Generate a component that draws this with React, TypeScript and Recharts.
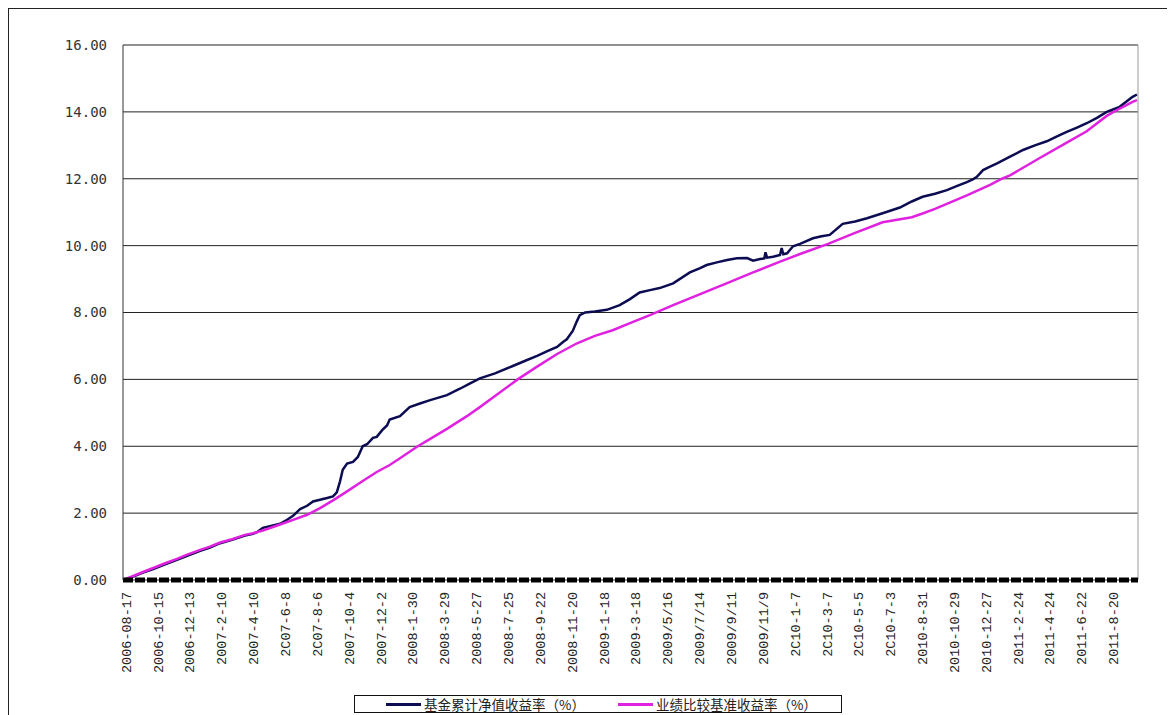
import React from 'react';
import { LineChart, Line, XAxis, YAxis, CartesianGrid, ReferenceLine } from 'recharts';

// x-axis tick labels, one every 59 days starting 2006-08-17
const labelDates = [
  '2006-08-17', '2006-10-15', '2006-12-13', '2007-2-10', '2007-4-10', '2C07-6-8', '2C07-8-6',
  '2007-10-4', '2007-12-2', '2008-1-30', '2008-3-29', '2008-5-27', '2008-7-25', '2008-9-22',
  '2008-11-20', '2009-1-18', '2009-3-18', '2009/5/16', '2009/7/14', '2009/9/11', '2009/11/9',
  '2C10-1-7', '2C10-3-7', '2C10-5-5', '2C10-7-3', '2010-8-31', '2010-10-29', '2010-12-27',
  '2011-2-24', '2011-4-24', '2011-6-22', '2011-8-20',
];
const tickDays = labelDates.map((_, i) => i * 59);
const yTicks = [0, 2, 4, 6, 8, 10, 12, 14, 16];

// 基金累计净值收益率 (days since 2006-08-17, %)
const fundDays = [
  0, 19, 37, 56, 78, 100, 119, 143, 161, 180, 202, 226, 241, 248, 259, 272, 291, 304, 315, 328,
  341, 352, 365, 378, 389, 396, 402, 407, 415, 426, 435, 444, 452, 463, 470, 480, 489, 494, 513,
  531, 550, 569, 600, 624, 643, 661, 689, 722, 744, 767, 787, 804, 815, 822, 833, 841, 846, 856,
  874, 896, 920, 939, 957, 976, 994, 1019, 1050, 1069, 1081, 1100, 1119, 1137, 1156, 1167, 1180,
  1188, 1190, 1193, 1204, 1217, 1220, 1223, 1230, 1241, 1254, 1278, 1294, 1309, 1333, 1356, 1378,
  1407, 1439, 1461, 1481, 1504, 1526, 1544, 1563, 1574, 1581, 1593, 1606, 1619, 1643, 1667, 1689,
  1711, 1730, 1748, 1767, 1785, 1804, 1822, 1846, 1870, 1878,
];
const fundValues = [
  0, 0.1, 0.22, 0.33, 0.47, 0.6, 0.72, 0.87, 0.97, 1.1, 1.2, 1.33, 1.38, 1.43, 1.56, 1.61, 1.68, 1.8, 1.92, 2.12,
  2.22, 2.35, 2.4, 2.45, 2.5, 2.62, 2.95, 3.3, 3.48, 3.53, 3.68, 4.0, 4.06, 4.25, 4.28, 4.48, 4.62, 4.8, 4.9,
  5.17, 5.28, 5.38, 5.53, 5.72, 5.88, 6.03, 6.18, 6.4, 6.55, 6.7, 6.85, 6.97, 7.12, 7.2, 7.45, 7.75, 7.92, 8.0,
  8.03, 8.08, 8.22, 8.4, 8.6, 8.67, 8.73, 8.87, 9.2, 9.33, 9.42, 9.5, 9.57, 9.62, 9.63, 9.55, 9.6,
  9.62, 9.8, 9.64, 9.67, 9.72, 9.93, 9.74, 9.77, 9.98, 10.05, 10.22, 10.28, 10.32, 10.65, 10.72, 10.82,
  10.97, 11.14, 11.32, 11.46, 11.55, 11.66, 11.78, 11.9, 11.98, 12.05, 12.26, 12.36, 12.46, 12.66, 12.86, 13.0,
  13.12, 13.27, 13.4, 13.53, 13.66, 13.82, 14.0, 14.15, 14.45, 14.52,
];

// 业绩比较基准收益率
const benchDays = [
  0, 19, 37, 56, 78, 100, 119, 143, 161, 180, 202, 226, 241, 259, 291, 315, 341, 365, 389, 415,
  444, 470, 494, 513, 546, 569, 600, 637, 661, 689, 731, 767, 804, 841, 874, 907, 939, 976, 1019,
  1069, 1119, 1167, 1217, 1254, 1306, 1356, 1407, 1461, 1481, 1504, 1563, 1606, 1628, 1643, 1698,
  1748, 1785, 1822, 1846, 1870, 1878,
];
const benchValues = [
  0, 0.12, 0.24, 0.36, 0.5, 0.63, 0.76, 0.9, 1.0, 1.12, 1.22, 1.35, 1.4, 1.48, 1.66, 1.8, 1.95, 2.15, 2.38, 2.65,
  2.96, 3.23, 3.44, 3.64, 4.0, 4.22, 4.52, 4.9, 5.17, 5.5, 6.0, 6.38, 6.76, 7.08, 7.3, 7.47, 7.68, 7.92, 8.22,
  8.55, 8.88, 9.2, 9.52, 9.75, 10.05, 10.38, 10.7, 10.85, 10.96, 11.1, 11.5, 11.82, 12.0, 12.1, 12.62,
  13.08, 13.42, 13.88, 14.1, 14.3, 14.35,
];

const fundData = fundDays.map((day, i) => ({ day, value: fundValues[i] }));
const benchData = benchDays.map((day, i) => ({ day, value: benchValues[i] }));

const FUND_COLOR = '#0c0c52';
const BENCH_COLOR = '#e022e0';

const DateTick = (props: any) => {
  const { x, y, payload } = props;
  const label = labelDates[Math.round(payload.value / 59)];
  return (
    <text
      x={0}
      y={0}
      dy="0.35em"
      transform={`translate(${x + 3},${y}) rotate(-90)`}
      textAnchor="end"
      fontSize={13.5}
      fontFamily="'Liberation Mono', monospace"
      fill="#222"
    >
      {label}
    </text>
  );
};

const legendItem = (color: string, text: string) => (
  <div style={{ display: 'flex', alignItems: 'center' }}>
    <div style={{ width: 35, height: 3, background: color, marginRight: 3 }} />
    <span>{text}</span>
  </div>
);

export default function App() {
  return (
    <div
      style={{
        position: 'relative',
        width: 1158,
        height: 707,
        borderLeft: '1px solid #222',
        borderTop: '1px solid #222',
        overflow: 'hidden',
      }}
    >
      <LineChart width={1150} height={706} margin={{ top: 36, right: 21, bottom: 35, left: 0 }}>
        <CartesianGrid vertical={false} stroke="#222" strokeOpacity={1} />
        <XAxis
          dataKey="day"
          type="number"
          domain={[0, 1880]}
          ticks={tickDays}
          interval={0}
          height={100}
          tick={<DateTick />}
          tickLine={false}
          tickSize={0}
          tickMargin={12}
          axisLine={{ stroke: '#000', strokeWidth: 5, strokeDasharray: '10 2' }}
          allowDataOverflow
        />
        <YAxis
          type="number"
          domain={[0, 16]}
          ticks={yTicks}
          width={114}
          tickFormatter={(v: number) => v.toFixed(2)}
          tick={{ fontSize: 14, fontFamily: "'DejaVu Sans Mono', monospace", fill: '#333' }}
          tickLine={false}
          tickSize={6}
          tickMargin={10}
          axisLine={{ stroke: '#333' }}
        />
        <ReferenceLine x={1880} stroke="#999" />
        <Line
          data={fundData}
          dataKey="value"
          type="linear"
          stroke={FUND_COLOR}
          strokeWidth={2.5}
          dot={false}
          isAnimationActive={false}
        />
        <Line
          data={benchData}
          dataKey="value"
          type="linear"
          stroke={BENCH_COLOR}
          strokeWidth={2.5}
          dot={false}
          isAnimationActive={false}
        />
      </LineChart>
      <div
        style={{
          position: 'absolute',
          left: 345,
          top: 686,
          width: 488,
          height: 18,
          border: '1px solid #111',
          display: 'flex',
          alignItems: 'center',
          gap: 33,
          paddingLeft: 31,
          boxSizing: 'border-box',
          fontFamily: "'Noto Sans CJK SC', sans-serif",
          fontSize: 13.5,
          color: '#222',
          background: '#fff',
        }}
      >
        {legendItem(FUND_COLOR, '基金累计净值收益率（%）')}
        {legendItem(BENCH_COLOR, '业绩比较基准收益率（%）')}
      </div>
    </div>
  );
}
